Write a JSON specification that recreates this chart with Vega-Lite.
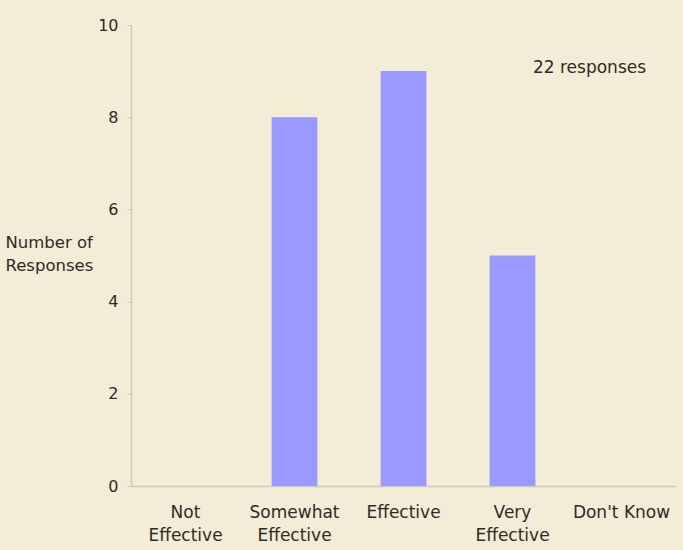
{
  "$schema": "https://vega.github.io/schema/vega-lite/v6.json",
  "width": 545,
  "height": 461,
  "autosize": "none",
  "padding": {"left": 131, "top": 25, "right": 7, "bottom": 64},
  "background": "#f3ecd6",
  "config": {
    "view": {"stroke": null},
    "font": "DejaVu Sans",
    "axis": {"labelFont": "DejaVu Sans", "titleFont": "DejaVu Sans", "grid": false}
  },
  "data": {
    "values": [
      {"rating": "Not Effective", "count": 0},
      {"rating": "Somewhat Effective", "count": 8},
      {"rating": "Effective", "count": 9},
      {"rating": "Very Effective", "count": 5},
      {"rating": "Don't Know", "count": 0}
    ]
  },
  "layer": [
    {
      "mark": {"type": "bar", "color": "#9999ff"},
      "encoding": {
        "x": {
          "field": "rating",
          "type": "nominal",
          "sort": null,
          "scale": {"paddingInner": 0.58, "paddingOuter": 0.29},
          "axis": {
            "title": null,
            "labelAngle": 0,
            "labelExpr": "datum.label == \"Don't Know\" ? datum.label : split(datum.label, ' ')",
            "labelFontSize": 17,
            "labelColor": "#2e2b26",
            "labelLineHeight": 23,
            "labelBaseline": "top",
            "labelPadding": 18,
            "ticks": false,
            "domainColor": "#cfc9b6",
            "domainWidth": 1.5
          }
        },
        "y": {
          "field": "count",
          "type": "quantitative",
          "scale": {"domain": [0, 10]},
          "axis": {
            "values": [0, 2, 4, 6, 8, 10],
            "title": ["Number of", "Responses"],
            "titleAngle": 0,
            "titleAlign": "left",
            "titleBaseline": "top",
            "titleX": -126,
            "titleY": 209,
            "titleFontSize": 16.5,
            "titleFontWeight": "normal",
            "titleColor": "#2e2b26",
            "titleLineHeight": 23,
            "labelFontSize": 16,
            "labelColor": "#2e2b26",
            "labelPadding": 9,
            "tickSize": 4,
            "tickColor": "#cfc9b6",
            "domainColor": "#cfc9b6",
            "domainWidth": 1.5
          }
        }
      }
    },
    {
      "data": {"values": [{"note": "22 responses"}]},
      "mark": {"type": "text", "fontSize": 17, "color": "#2e2b26", "dx": -32},
      "encoding": {
        "x": {"datum": "Don't Know", "type": "nominal"},
        "y": {"datum": 9.07, "type": "quantitative"},
        "text": {"field": "note"}
      }
    }
  ]
}
